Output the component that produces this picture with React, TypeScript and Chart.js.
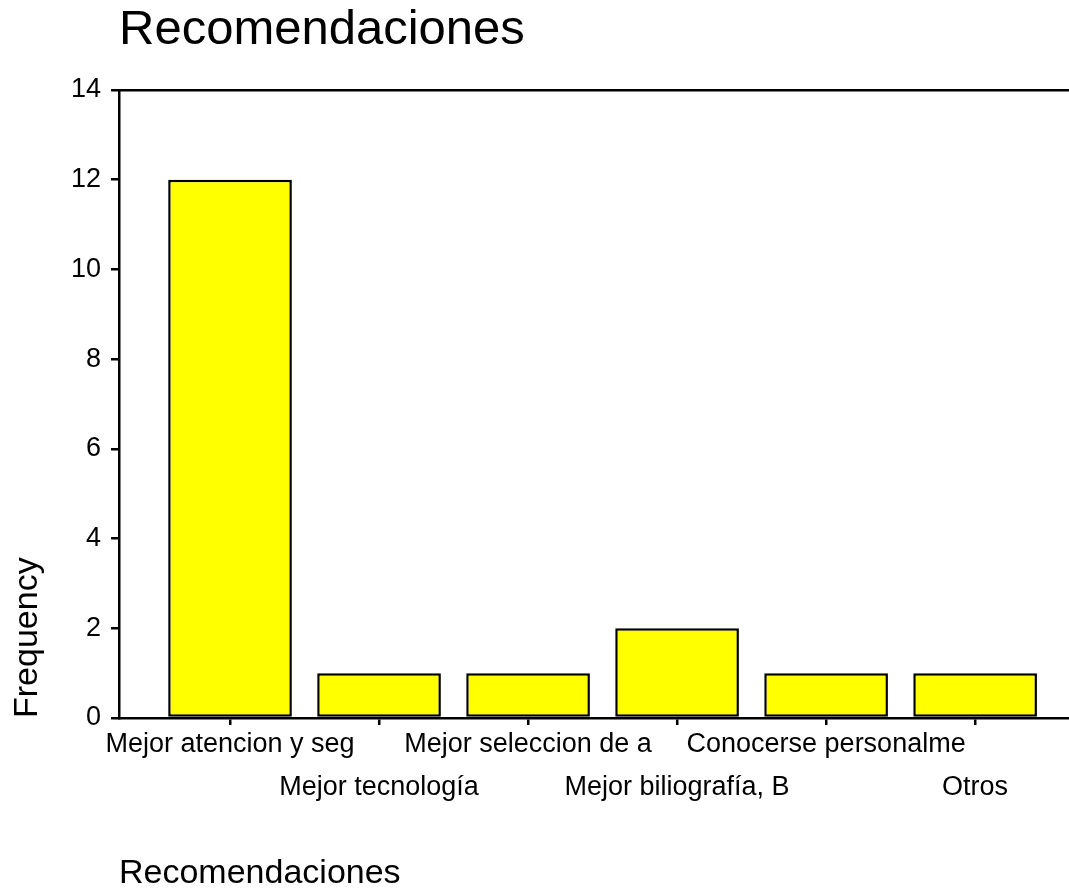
import React, { useEffect, useRef } from 'react';
import { Chart, registerables } from 'chart.js';

Chart.register(...registerables);

const chartTitle = 'Recomendaciones';
const xAxisTitle = 'Recomendaciones';
const yAxisTitle = 'Frequency';
const categories = [
  'Mejor atencion y seg',
  'Mejor tecnología',
  'Mejor seleccion de a',
  'Mejor biliografía, B',
  'Conocerse personalme',
  'Otros',
];
const frequencies = [12, 1, 1, 2, 1, 1];
const yTickValues = [0, 2, 4, 6, 8, 10, 12, 14];

const FONT = "'Liberation Sans', Arial, Helvetica, sans-serif";

export default function App() {
  const canvasRef = useRef<HTMLCanvasElement | null>(null);

  useEffect(() => {
    const canvas = canvasRef.current;
    if (!canvas) return;
    const chart = new Chart(canvas, {
      type: 'bar',
      data: {
        datasets: [
          {
            data: frequencies.map((v, i) => ({ x: i, y: v })),
            backgroundColor: '#FFFF00',
            borderColor: '#000000',
            borderWidth: 2.5,
            borderSkipped: false,
            categoryPercentage: 1,
            barPercentage: 0.83,
            xAxisID: 'x',
            yAxisID: 'y',
          },
        ],
      },
      options: {
        responsive: false,
        animation: false,
        devicePixelRatio: 1,
        layout: { padding: 0 },
        plugins: {
          legend: { display: false },
          tooltip: { enabled: false },
          title: {
            display: true,
            text: chartTitle,
            align: 'start',
            fullSize: false,
            color: '#000000',
            font: { family: FONT, size: 49, weight: 'normal' },
            padding: { top: 1.5, bottom: 29.7 },
          },
        },
        scales: {
          x: {
            type: 'linear',
            position: 'bottom',
            offset: false,
            min: -0.745,
            max: 5.63,
            afterBuildTicks: (s: any) => {
              s.ticks = categories.map((_, i) => ({ value: i }));
            },
            afterFit: (s: any) => {
              s.height = 171;
            },
            ticks: {
              autoSkip: false,
              maxRotation: 0,
              minRotation: 0,
              padding: -2,
              color: '#000000',
              font: { family: FONT, size: 27, lineHeight: 43 / 27 },
              callback: (_v: any, index: number) => {
                const lbl = categories[index];
                return index % 2 === 0 ? [lbl, ''] : ['', lbl];
              },
            },
            grid: {
              display: true,
              offset: false,
              drawOnChartArea: false,
              drawTicks: true,
              tickLength: 7,
              lineWidth: 2.5,
              color: '#000000',
            },
            border: { display: true, color: '#000000', width: 2.5 },
            title: {
              display: true,
              text: xAxisTitle,
              align: 'start',
              color: '#000000',
              font: { family: FONT, size: 34 },
              padding: { top: 0, bottom: -5 },
            },
          },
          x2: {
            type: 'linear',
            position: 'top',
            offset: false,
            min: 0,
            max: 1,
            display: true,
            ticks: { display: false },
            grid: { display: true, offset: false, drawOnChartArea: false, drawTicks: false },
            border: { display: true, color: '#000000', width: 2.5 },
          },
          y: {
            type: 'linear',
            position: 'left',
            min: 0,
            max: 14,
            afterBuildTicks: (s: any) => {
              s.ticks = yTickValues.map((v) => ({ value: v }));
            },
            afterFit: (s: any) => {
              s.width = 119;
            },
            ticks: {
              padding: 10,
              color: '#000000',
              font: { family: FONT, size: 27 },
            },
            grid: {
              display: true,
              drawOnChartArea: false,
              drawTicks: true,
              tickLength: 8,
              lineWidth: 2.5,
              color: '#000000',
            },
            border: { display: true, color: '#000000', width: 2.5 },
            title: {
              display: true,
              text: yAxisTitle,
              align: 'start',
              color: '#000000',
              font: { family: FONT, size: 34 },
              padding: { top: 7, bottom: 0 },
            },
          },
        },
      } as any,
    });
    return () => chart.destroy();
  }, []);

  return (
    <div style={{ position: 'absolute', left: 0, top: 0, width: 1069, height: 889 }}>
      <canvas ref={canvasRef} width={1069} height={889} style={{ display: 'block' }} />
    </div>
  );
}
